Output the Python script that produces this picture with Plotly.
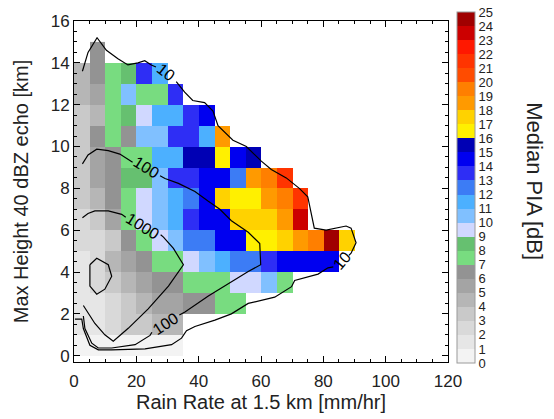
import plotly.graph_objects as go

# ---------------------------------------------------------------- data
# bin centres of the 2-D histogram (rain rate 5 mm/hr bins, height 1 km bins)
rain_rate_centers = [2.5, 7.5, 12.5, 17.5, 22.5, 27.5, 32.5, 37.5, 42.5,
                     47.5, 52.5, 57.5, 62.5, 67.5, 72.5, 77.5, 82.5, 87.5]
height_centers = [0.5, 1.5, 2.5, 3.5, 4.5, 5.5, 6.5, 7.5, 8.5, 9.5,
                  10.5, 11.5, 12.5, 13.5, 14.5]

# median PIA [dB] per bin, one list per height row (bottom to top)
pia_h00 = [0.5, 0.5, 0.5, 0.5, 0.5, 0.5, 0.5]
pia_h01 = [1.5, 1.5, 2.5, 3.5, 3.5, 4.5, 4.5]
pia_h02 = [1.5, 1.5, 2.5, 3.5, 4.5, 5.5, 5.5, 6.5, 6.5, 7.5, 7.5]
pia_h03 = [1.5, 2.5, 3.5, 4.5, 5.5, 6.5, 6.5, 7.5, 7.5, 7.5, 9.5, 9.5, 10.5, 7.5]
pia_h04 = [1.5, 2.5, 4.5, 5.5, 6.5, 7.5, 7.5, 9.5, 10.5, 11.5, 12.5, 12.5, 13.5,
           14.5, 14.5, 14.5, 14.5]
pia_h05 = [2.5, 2.5, 3.5, 6.5, 7.5, 9.5, 10.5, 12.5, 12.5, 14.5, 14.5, 16.5, 16.5,
           17.5, 18.5, 19.5, 24.5, 17.5]
pia_h06 = [2.5, 3.5, 5.5, 7.5, 9.5, 10.5, 11.5, 13.5, 14.5, 14.5, 17.5, 17.5, 17.5,
           18.5, 23.5]
pia_h07 = [3.5, 4.5, 6.5, 7.5, 9.5, 10.5, 11.5, 12.5, 14.5, 17.5, 16.5, 16.5, 18.5,
           19.5, 21.5]
pia_h08 = [3.5, 5.5, 6.5, 8.5, 8.5, 10.5, 13.5, 13.5, 14.5, 14.5, 12.5, 18.5, 19.5, 21.5]
pia_h09 = [3.5, 5.5, 6.5, 7.5, 7.5, 11.5, 11.5, 15.5, 15.5, 16.5, 14.5, 15.5]
pia_h10 = [3.5, 6.5, 7.5, 6.5, 10.5, 10.5, 13.5, 13.5, 11.5, 18.5]
pia_h11 = [3.5, 4.5, 7.5, 8.5, 9.5, 11.5, 11.5, 13.5, 14.5]
pia_h12 = [4.5, 5.5, 7.5, 10.5, 7.5, 7.5, 13.5]
pia_h13 = [4.5, 6.5, 7.5, 8.5, 13.5, 11.5]
pia_h14 = [None, 6.5]

# colour of each 1 dB PIA class, 0-1 dB first
pia_class_colors = ["#F3F3F3", "#E6E6E6", "#D9D9D9", "#C9C9C9", "#B6B6B6",
                    "#A4A4A4", "#939393", "#78DC80", "#66C070", "#D0D8FF",
                    "#80C0FF", "#4CB0FF", "#3C7CF5", "#2E2EF5", "#0000F0",
                    "#0000B4", "#FFF000", "#FFD200", "#FF9A00", "#FF7F00",
                    "#FF4C00", "#FF3400", "#FF1800", "#CC0000", "#A00000"]
pia_ticks = list(range(0, 26))

# sample-count contours (rain rate, height); each level split where its label sits
cnt10_x1 = [2.7, 4.5, 7.4, 10.4, 14.1, 17.3, 20.5, 22.7, 24.8, 26.3]
cnt10_y1 = [13.6, 14.5, 15.2, 14.6, 14.2, 13.9, 14.0, 14.1, 13.9, 13.8]
cnt10_x2 = [32.8, 35.5, 38.1, 41.9, 44.6, 46.2, 51.0, 55.3, 60.1, 63.3, 68.1, 72.3,
            75.0, 76.1, 77.1, 80.9, 84.1, 87.3, 88.9, 90.5, 88.9, 88.2]
cnt10_y2 = [13.1, 12.6, 12.2, 12.1, 11.7, 11.0, 10.3, 10.0, 9.3, 8.9, 8.5, 8.0,
            7.6, 6.8, 6.1, 6.0, 6.1, 6.2, 6.1, 5.4, 4.9, 4.8]
cnt10_x3 = [83.2, 81.5, 78.3, 70.8, 69.8, 64.4, 55.9, 50.5, 45.2, 38.8, 36.1, 34.5,
            31.3, 22.8, 12.1, 7.8, 5.1, 3.0, 2.5, 0.3]
cnt10_y3 = [4.25, 4.2, 3.9, 3.6, 3.3, 2.8, 2.5, 2.0, 1.7, 1.4, 1.2, 0.84,
            0.53, 0.33, 0.28, 0.28, 0.5, 1.3, 1.75, 1.75]

cnt100_x1 = [2.7, 4.5, 7.3, 11.0, 14.7, 17.4, 18.8]
cnt100_y1 = [9.17, 9.6, 9.87, 9.8, 9.64, 9.4, 9.25]
cnt100_x2 = [27.6, 29.2, 33.5, 38.8, 43.1, 46.8, 50.5, 55.9, 59.6, 59.9, 59.9, 55.9,
             48.4, 43.1, 35.6, 33.8]
cnt100_y2 = [8.6, 8.47, 8.24, 7.85, 7.38, 7.0, 6.45, 5.9, 5.36, 4.58, 4.35, 4.03,
             3.33, 2.86, 2.09, 1.95]
cnt100_x3 = [25.0, 24.4, 19.6, 12.1, 7.8, 5.7, 3.5, 3.0]
cnt100_y3 = [1.12, 0.97, 0.53, 0.37, 0.37, 0.6, 1.3, 1.9]

cnt1000_x1 = [2.7, 4.5, 6.7, 11.0, 15.3, 16.6]
cnt1000_y1 = [6.6, 6.8, 6.92, 6.92, 6.76, 6.62]
cnt1000_x2 = [27.8, 28.7, 31.9, 34.0, 35.1, 30.3, 23.8, 17.4, 12.6, 9.9, 6.7, 3.0]
cnt1000_y2 = [5.78, 5.67, 5.13, 4.66, 4.35, 3.33, 2.24, 1.31, 0.69, 1.0, 1.54, 2.4]

cnt10000_x = [5.1, 7.3, 11.0, 12.1, 9.9, 7.3, 5.1, 5.1]
cnt10000_y = [4.35, 4.66, 4.35, 3.8, 3.18, 2.94, 3.33, 4.35]

# contour labels: text, rain rate, height, rotation
contour_labels = [("10", 29.6, 13.55, 38),
                  ("10", 86.0, 4.55, -50),
                  ("100", 23.2, 9.0, 32),
                  ("100", 29.5, 1.55, -33),
                  ("1000", 22.2, 6.2, 32)]

# ---------------------------------------------------------------- figure
n_cols = len(rain_rate_centers)
rows = [pia_h00, pia_h01, pia_h02, pia_h03, pia_h04, pia_h05, pia_h06, pia_h07,
        pia_h08, pia_h09, pia_h10, pia_h11, pia_h12, pia_h13, pia_h14]
z = [r + [None] * (n_cols - len(r)) for r in rows]

n_cls = len(pia_class_colors)
colorscale = []
for i, c in enumerate(pia_class_colors):
    colorscale.append([i / n_cls, c])
    colorscale.append([(i + 1) / n_cls, c])

FONT = "Liberation Sans, Arial, Helvetica, sans-serif"
INK = "#222"

# pixel geometry of the plotting area
W, H = 554, 419
ML, MR, MT, MB = 74, 106, 17, 56
PW, PH = W - ML - MR, H - MT - MB

cb_left_px = 457
cb_thick = 18
cb_top_px, cb_bot_px = 13, 364
cb_len = cb_bot_px - cb_top_px
cb_x = (cb_left_px - ML) / PW
cb_y = (H - MB - cb_bot_px) / PH

fig = go.Figure()
fig.add_trace(go.Heatmap(
    x=rain_rate_centers, y=height_centers, z=z,
    zmin=0, zmax=25, colorscale=colorscale, hoverongaps=False,
    colorbar=dict(
        x=cb_x, xanchor="left", xpad=0, y=cb_y, yanchor="bottom", ypad=0,
        len=cb_len, lenmode="pixels", thickness=cb_thick, thicknessmode="pixels",
        tickmode="array", tickvals=pia_ticks, ticktext=[str(t) for t in pia_ticks],
        ticks="", ticklen=0,
        tickfont=dict(family=FONT, size=13, color=INK),
        outlinewidth=1, outlinecolor="#9a9a9a",
    ),
))

line_style = dict(color="black", width=1.2)
for xs, ys in [(cnt10_x1, cnt10_y1), (cnt10_x2, cnt10_y2), (cnt10_x3, cnt10_y3),
               (cnt100_x1, cnt100_y1), (cnt100_x2, cnt100_y2), (cnt100_x3, cnt100_y3),
               (cnt1000_x1, cnt1000_y1), (cnt1000_x2, cnt1000_y2),
               (cnt10000_x, cnt10000_y)]:
    fig.add_trace(go.Scatter(x=xs, y=ys, mode="lines", line=line_style,
                             showlegend=False, hoverinfo="skip"))

for txt, lx, ly, ang in contour_labels:
    fig.add_annotation(x=lx, y=ly, text=txt, showarrow=False, textangle=ang,
                       font=dict(family=FONT, size=16, color="black"))

# thin separators between the colour classes in the colour bar
for i in range(1, n_cls):
    yy = cb_y + (i / n_cls) * cb_len / PH
    fig.add_shape(type="line", xref="paper", yref="paper",
                  x0=cb_x, x1=cb_x + cb_thick / PW, y0=yy, y1=yy,
                  line=dict(color="#9a9a9a", width=0.8))

fig.add_annotation(xref="paper", yref="paper", x=(535 - ML) / PW, y=0.53,
                   xanchor="center", yanchor="middle",
                   text="Median PIA [dB]", showarrow=False, textangle=90,
                   font=dict(family=FONT, size=22, color=INK))

axis_common = dict(showgrid=False, zeroline=False, showline=True, linecolor="black",
                   linewidth=1, mirror="ticks", ticks="inside", tickcolor="black",
                   ticklen=6, tickwidth=1,
                   tickfont=dict(family=FONT, size=17, color=INK))

fig.update_xaxes(range=[0, 120], dtick=20, tick0=0, ticklabelstandoff=4,
                 minor=dict(dtick=5, ticks="inside", ticklen=3, tickcolor="black"),
                 title=dict(text="Rain Rate at 1.5 km [mm/hr]", standoff=2,
                            font=dict(family=FONT, size=20, color=INK)),
                 **axis_common)
fig.update_yaxes(range=[-0.3, 16], dtick=2, tick0=0,
                 minor=dict(dtick=0.5, ticks="inside", ticklen=3, tickcolor="black"),
                 title=dict(text="Max Height 40 dBZ echo [km]", standoff=16,
                            font=dict(family=FONT, size=20, color=INK)),
                 **axis_common)

fig.update_layout(width=W, height=H, margin=dict(l=ML, r=MR, t=MT, b=MB),
                  paper_bgcolor="white", plot_bgcolor="white", showlegend=False)

fig.write_html("out.html")
